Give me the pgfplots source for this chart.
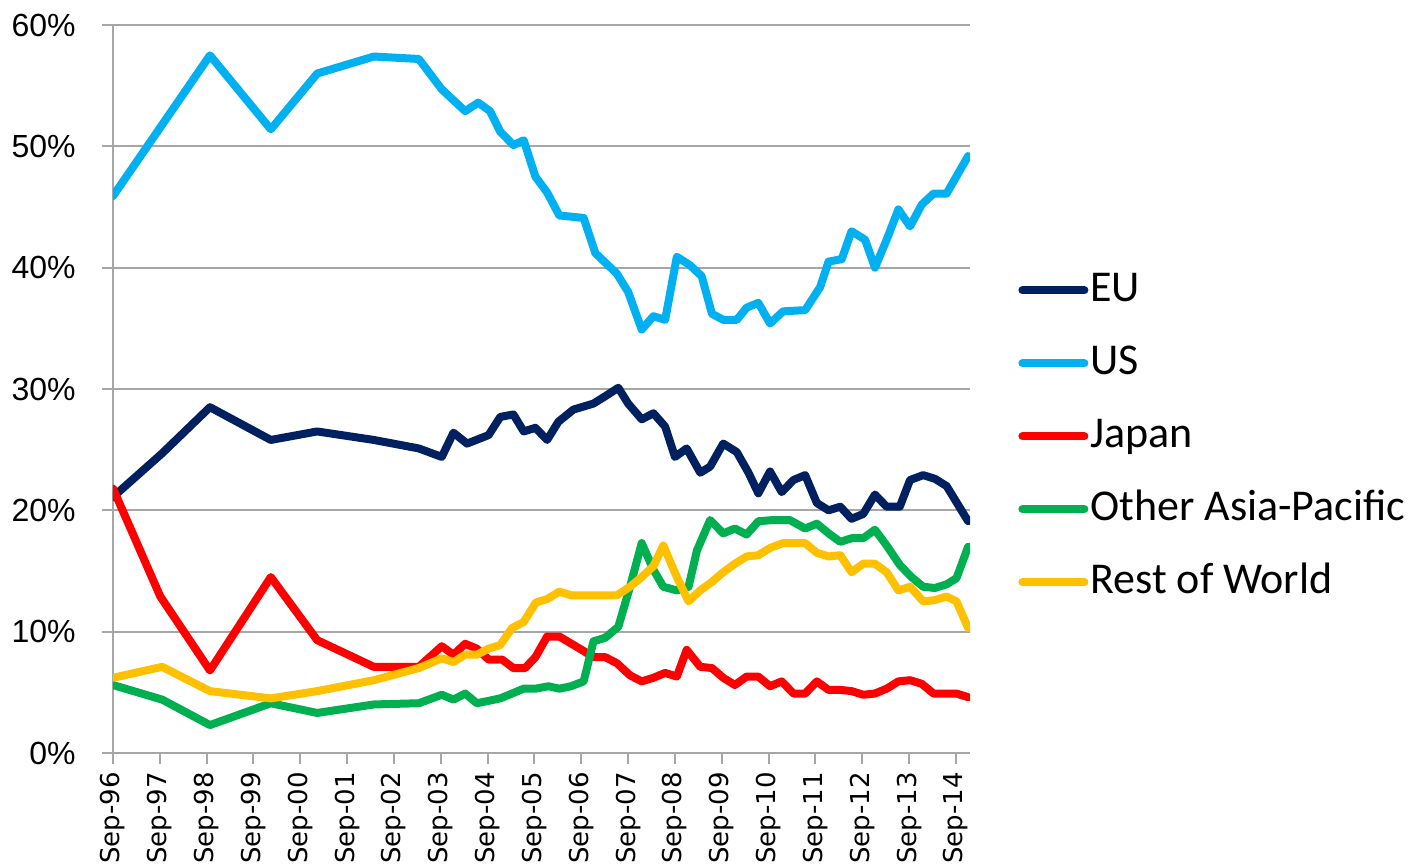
\documentclass[border=0pt]{standalone}
\usepackage{pgfplots}
\pgfplotsset{compat=1.18}
\usepackage{fontspec}
\setmainfont{Carlito}
\newfontfamily\arialf{Liberation Sans}
\newfontfamily\dejavu{DejaVu Sans}
\definecolor{cEU}{HTML}{002060}
\definecolor{cUS}{HTML}{00B0F0}
\definecolor{cJP}{HTML}{FF0000}
\definecolor{cAP}{HTML}{00B050}
\definecolor{cRW}{HTML}{FFC000}
\definecolor{gridc}{HTML}{A6A6A6}
\begin{document}
\begin{tikzpicture}
\begin{axis}[
  scale only axis, width=428.5pt, height=364pt,
  xmin=0, xmax=18.3, ymin=0, ymax=60,
  axis x line*=bottom, axis y line*=left,
  axis line style={gridc, line width=1pt},
  xtick={0,...,18},
  xticklabels={Sep-96,Sep-97,Sep-98,Sep-99,Sep-00,Sep-01,Sep-02,Sep-03,Sep-04,Sep-05,Sep-06,Sep-07,Sep-08,Sep-09,Sep-10,Sep-11,Sep-12,Sep-13,Sep-14},
  xticklabel style={rotate=90, anchor=east, font=\dejavu\fontsize{13}{14}\selectfont, inner sep=2pt, xshift=-2pt},
  ytick={0,10,...,60},
  yticklabels={0\%,10\%,20\%,30\%,40\%,50\%,60\%},
  yticklabel style={font=\arialf\fontsize{16}{18}\selectfont, inner sep=2pt, xshift=-11pt},
  tick align=outside, major tick length=5.5pt,
  tick style={gridc, line width=1pt},
  ymajorgrids, grid style={gridc, line width=1pt},
  every axis plot/.append style={line width=4pt, line join=round, line cap=round},
  legend style={at={(1.056,0.435)}, anchor=west, draw=none, fill=none, inner sep=0pt,
    font=\fontsize{22}{26}\selectfont,
    nodes={text height=16pt, text depth=5pt, inner sep=1pt},
    row sep=13.5pt},
  legend cell align=left,
  legend image code/.code={\draw[#1, line width=4pt, line cap=round] (0pt,0pt) -- (31pt,0pt);},
]
% EU
\addplot[cEU] coordinates {
(0,21.1) (1.05,24.7) (2.07,28.5) (3.37,25.8) (4.36,26.5) (5.57,25.8) (6.53,25.1)
(7.02,24.4) (7.27,26.4) (7.56,25.5) (8.02,26.2) (8.27,27.7) (8.55,27.9) (8.77,26.5)
(9.02,26.8) (9.27,25.8) (9.51,27.3) (9.83,28.3) (10.26,28.8) (10.51,29.4) (10.79,30.1)
(11.0,28.8) (11.29,27.5) (11.54,28.0) (11.79,26.9) (12.0,24.4) (12.25,25.1) (12.54,23.1)
(12.75,23.6) (13.03,25.5) (13.32,24.8) (13.57,23.1) (13.78,21.4) (14.03,23.2) (14.28,21.5)
(14.53,22.5) (14.78,22.9) (15.03,20.6) (15.28,20.0) (15.53,20.3) (15.77,19.3) (16.02,19.7)
(16.27,21.3) (16.52,20.3) (16.8,20.3) (17.02,22.5) (17.3,22.9) (17.55,22.6) (17.8,22.0)
(18.26,19.1)
};
\addlegendentry{EU}
% US
\addplot[cUS] coordinates {
(0,45.9) (2.07,57.5) (3.37,51.4) (4.36,56.0) (5.57,57.4) (6.53,57.2) (7.02,54.7)
(7.52,52.9) (7.8,53.6) (8.05,52.9) (8.27,51.2) (8.55,50.1) (8.77,50.5) (9.02,47.5)
(9.27,46.2) (9.53,44.3) (10.05,44.1) (10.3,41.2) (10.76,39.5) (11.0,38.0) (11.29,34.9)
(11.54,36.0) (11.79,35.7) (12.04,40.9) (12.32,40.2) (12.57,39.3) (12.79,36.2) (13.03,35.7)
(13.32,35.7) (13.53,36.7) (13.78,37.1) (14.03,35.4) (14.31,36.4) (14.78,36.5) (15.1,38.4)
(15.28,40.5) (15.56,40.7) (15.77,43.0) (16.06,42.3) (16.27,40.0) (16.52,42.3) (16.77,44.8)
(17.02,43.4) (17.27,45.2) (17.52,46.1) (17.8,46.1) (18.26,49.2)
};
\addlegendentry{US}
% Japan
\addplot[cJP] coordinates {
(0,21.8) (1.01,12.9) (2.07,6.8) (3.37,14.5) (4.36,9.3) (5.57,7.1) (6.53,7.1)
(7.02,8.8) (7.27,8.1) (7.52,9.0) (7.77,8.6) (8.02,7.7) (8.31,7.7) (8.55,7.0) (8.8,7.0)
(9.02,7.9) (9.27,9.6) (9.53,9.6) (10.01,8.5) (10.26,7.9) (10.51,7.9) (10.76,7.4)
(11.04,6.4) (11.29,5.9) (11.54,6.2) (11.79,6.6) (12.04,6.3) (12.25,8.5) (12.54,7.1)
(12.79,7.0) (13.03,6.2) (13.28,5.6) (13.53,6.3) (13.78,6.3) (14.03,5.5) (14.28,5.9)
(14.53,4.9) (14.78,4.9) (15.03,5.9) (15.28,5.2) (15.53,5.2) (15.77,5.1) (16.02,4.8)
(16.27,4.9) (16.52,5.3) (16.77,5.9) (17.02,6.0) (17.27,5.7) (17.52,4.9) (17.8,4.9)
(18.01,4.9) (18.26,4.6)
};
\addlegendentry{Japan}
% Other Asia-Pacific
\addplot[cAP] coordinates {
(0,5.6) (1.05,4.4) (2.07,2.3) (3.37,4.1) (4.36,3.3) (5.57,4.0) (6.53,4.1)
(7.02,4.8) (7.27,4.4) (7.52,4.9) (7.77,4.1) (8.27,4.5) (8.77,5.3) (9.02,5.3)
(9.3,5.5) (9.53,5.3) (9.78,5.5) (10.05,5.9) (10.26,9.2) (10.51,9.5) (10.79,10.4)
(11.04,13.7) (11.29,17.3) (11.54,15.1) (11.75,13.7) (12.04,13.4) (12.29,13.7) (12.47,16.7)
(12.75,19.2) (13.03,18.1) (13.28,18.5) (13.53,18.0) (13.78,19.1) (14.1,19.2) (14.45,19.2)
(14.78,18.5) (15.03,18.9) (15.28,18.1) (15.53,17.4) (15.77,17.7) (16.02,17.7) (16.27,18.4)
(16.52,17.1) (16.8,15.5) (17.05,14.5) (17.3,13.7) (17.55,13.6) (17.8,13.9) (18.01,14.4)
(18.26,17.0)
};
\addlegendentry{Other Asia-Pacific}
% Rest of World
\addplot[cRW] coordinates {
(0,6.2) (1.05,7.1) (2.07,5.1) (3.37,4.5) (4.36,5.1) (5.57,6.0) (6.53,7.0)
(7.02,7.8) (7.27,7.5) (7.52,8.1) (7.77,8.1) (8.02,8.6) (8.27,8.9) (8.52,10.3)
(8.77,10.8) (9.03,12.4) (9.28,12.7) (9.53,13.3) (9.78,13.0) (10.76,13.0) (11.04,13.7)
(11.29,14.5) (11.54,15.4) (11.75,17.1) (12.04,14.5) (12.29,12.5) (12.54,13.4) (12.79,14.1)
(13.03,14.9) (13.28,15.6) (13.53,16.2) (13.78,16.3) (14.03,16.9) (14.31,17.3) (14.78,17.3)
(15.03,16.5) (15.28,16.2) (15.53,16.3) (15.77,14.9) (16.02,15.6) (16.27,15.6) (16.52,14.9)
(16.77,13.4) (17.02,13.7) (17.3,12.5) (17.55,12.6) (17.8,12.9) (18.01,12.5) (18.26,10.3)
};
\addlegendentry{Rest of World}
\end{axis}
\path (current axis.south west) ++(-56.5pt,-55.5pt) rectangle ++(710pt,432pt);
\end{tikzpicture}
\end{document}
